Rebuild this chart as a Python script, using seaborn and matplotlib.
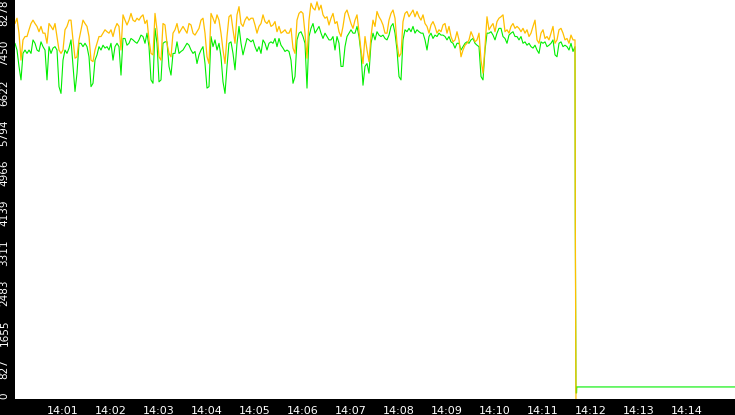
import numpy as np
import pandas as pd
import seaborn as sns
import matplotlib.pyplot as plt
import matplotlib.dates as mdates

# samples every 2.5 s from 14:00:00
orange_vals = [
    7790, 7900, 7590, 7030, 7450, 7520, 7520, 7660, 7790, 7860,
    7790, 7730, 7620, 7730, 7590, 7590, 7380, 7790, 7730, 7660,
    7790, 7520, 7240, 7170, 7240, 7660, 7730, 7860, 7860, 7450,
    7070, 7100, 7450, 7660, 7860, 7790, 7730, 7520, 7030, 7000,
    7240, 7380, 7520, 7520, 7590, 7660, 7620, 7590, 7660, 7520,
    7690, 7790, 7730, 7240, 7970, 7860, 7760, 7860, 8000, 7860,
    7830, 7900, 7860, 7930, 7970, 7790, 7860, 7450, 7170, 7140,
    8000, 7660, 7100, 7030,
    7790, 7760, 7380, 7170, 7100, 7590, 7660, 7790, 7590, 7660,
    7730, 7660, 7590, 7790, 7760, 7590, 7550, 7620, 7690, 7860,
    7900, 7590, 7100, 6960, 8000, 7900, 7790, 7970, 7860, 7590,
    7240, 6960, 7520, 7930, 7970, 7660, 7380, 7970, 8140, 7790,
    7730, 7860, 7930, 7860, 7900, 7900, 7760, 7590, 7730, 7790,
    7970, 7830, 7790, 7860, 7730, 7760, 7830, 7620, 7730, 7590,
    7620, 7660, 7590, 7590, 7690, 7280, 7170, 7860, 8000, 8040,
    8000, 7590, 7070, 7860, 8210, 8110, 8070, 8240, 8070, 8170,
    7970, 7900, 7930, 7760, 7900, 8000, 7790, 7830, 7620, 7520,
    7730, 8000, 8070, 7930, 7790, 7690, 7860, 7970, 7620, 7240,
    6960, 7520, 7240, 7000, 7520, 7860, 7730, 8040, 7930, 7860,
    7760, 7590, 7590, 7860, 8000, 8070, 7900, 7380, 7100, 7170,
    7830, 8000, 8040, 7930, 8000, 8070, 7930, 8040, 7930, 7860,
    7970, 7790, 7730, 7590, 7760, 7830, 7730, 7590, 7660, 7620,
    7760, 7790, 7590, 7730, 7520, 7410, 7450, 7620, 7450, 7100,
    7240, 7340, 7380, 7450, 7620, 7520, 7410, 7450, 7590, 7030,
    6760, 7310, 7930, 7660, 7730, 7790, 7620, 7830, 7900, 7930,
    7970, 7620, 7660, 7590, 7730, 7790, 7690, 7730, 7690, 7620,
    7690, 7590, 7660, 7520, 7590, 7730, 7860, 7450, 7380, 7590,
    7660, 7480, 7520, 7450, 7590, 7730, 7380, 7450, 7660, 7690,
    7590, 7450, 7480, 7380, 7550, 7450, 7450,
]
green_vals = [
    7380, 7240, 6900, 6620, 7170, 7240, 7170, 7240, 7170, 7450,
    7380, 7240, 7210, 7410, 7310, 7240, 6620, 7310, 7170, 7280,
    7310, 7240, 6480, 6340, 7030, 7240, 7170, 7280, 7450, 6900,
    6380, 6760, 7380, 7380, 7310, 7380, 7310, 7100, 6480, 6550,
    7030, 7140, 7310, 7240, 7340, 7280, 7310, 7240, 7380, 7030,
    7310, 7380, 7310, 6720, 7480, 7480, 7340, 7380, 7480, 7450,
    7410, 7380, 7450, 7550, 7520, 7380, 7590, 7310, 6620, 6550,
    7690, 7380, 6580, 6620,
    7380, 7410, 7410, 6900, 6720, 7170, 7170, 7410, 7170, 7210,
    7240, 7310, 7380, 7340, 7240, 7170, 7210, 6960, 7140, 7240,
    7310, 6960, 6450, 6480, 7520, 7310, 7450, 7240, 7380, 7100,
    6580, 6340, 6900, 7380, 7410, 7170, 6830, 7380, 7730, 7380,
    7140, 7310, 7480, 7450, 7410, 7450, 7310, 7210, 7310, 7170,
    7450, 7380, 7240, 7380, 7410, 7380, 7480, 7310, 7480, 7340,
    7280, 7210, 7240, 7210, 7030, 6550, 6690, 7450, 7590, 7620,
    7520, 7380, 6450, 7520, 7690, 7790, 7590, 7660, 7730, 7590,
    7480, 7590, 7520, 7450, 7450, 7520, 7240, 7520, 7380, 6900,
    6900, 7310, 7520, 7590, 7660, 7590, 7590, 7730, 7520, 7170,
    6510, 6900, 6960, 6760, 7380, 7590, 7450, 7620, 7550, 7520,
    7550, 7480, 7450, 7550, 7730, 7790, 7590, 7240, 6690, 6620,
    7450, 7660, 7620, 7690, 7620, 7730, 7590, 7660, 7620, 7590,
    7590, 7450, 7240, 7520, 7590, 7480, 7550, 7520, 7590, 7550,
    7550, 7520, 7450, 7520, 7410, 7380, 7280, 7380, 7380, 7240,
    7310, 7380, 7410, 7380, 7450, 7480, 7380, 7340, 7310, 6690,
    6620, 7240, 7590, 7590, 7620, 7550, 7450, 7590, 7690, 7690,
    7520, 7480, 7380, 7550, 7590, 7620, 7520, 7520, 7450, 7520,
    7380, 7410, 7340, 7380, 7310, 7280, 7340, 7240, 7170, 7410,
    7380, 7410, 7310, 7340, 7380, 7450, 7140, 7100, 7380, 7410,
    7310, 7340, 7310, 7240, 7380, 7210, 7310,
]

# after the drop (seconds after 14:00:00, value)
orange_tail_s = [700.4, 701.2]
orange_tail = [3660, 0]
green_tail_s = [700.4, 701.2, 702.0, 702.2, 900]
green_tail = [3620, 125, 125, 250, 250]

ytick_vals = [0, 827, 1655, 2483, 3311, 4139, 4966, 5794, 6622, 7450, 8278]
xtick_labels = ["14:01", "14:02", "14:03", "14:04", "14:05", "14:06", "14:07",
                "14:08", "14:09", "14:10", "14:11", "14:12", "14:13", "14:14"]

t0 = pd.Timestamp("2024-01-01 14:00:00")
sec = np.arange(len(orange_vals)) * 2.5
orange = pd.DataFrame({
    "time": t0 + pd.to_timedelta(np.concatenate([sec, orange_tail_s]), unit="s"),
    "value": orange_vals + orange_tail,
})
green = pd.DataFrame({
    "time": t0 + pd.to_timedelta(np.concatenate([sec, green_tail_s]), unit="s"),
    "value": green_vals + green_tail,
})

sns.set_style("white")
plt.rcParams["font.family"] = ["DejaVu Sans"]

fig = plt.figure(figsize=(7.35, 4.15), dpi=100, facecolor="black")
ax = fig.add_axes([15 / 735, 16 / 415, 720 / 735, 399 / 415])
ax.set_facecolor("white")

sns.lineplot(data=green, x="time", y="value", color="#00ee00", lw=0.8,
             estimator=None, ax=ax)
sns.lineplot(data=orange, x="time", y="value", color="#ffbf00", lw=0.9,
             estimator=None, ax=ax)

ax.set_xlim(t0, t0 + pd.Timedelta(minutes=15))
ax.set_ylim(0, 8278)

xticks = [pd.Timestamp(f"2024-01-01 {s}") for s in xtick_labels]
ax.set_xticks(xticks)
ax.xaxis.set_major_formatter(mdates.DateFormatter("%H:%M"))
ax.set_yticks(ytick_vals)
ax.set_yticklabels([str(v) for v in ytick_vals], rotation=90)
for lab in ax.get_yticklabels():
    lab.set_va("bottom" if lab.get_text() == "0" else "top")

ax.tick_params(colors="white", length=4, width=1, direction="out")
ax.tick_params(axis="x", labelsize=8, pad=1)
ax.tick_params(axis="y", labelsize=7.5, length=3.5, pad=0.5)
ax.set_xlabel("")
ax.set_ylabel("")
for sp in ax.spines.values():
    sp.set_visible(False)

fig.savefig("out.png", dpi=100, facecolor="black")
